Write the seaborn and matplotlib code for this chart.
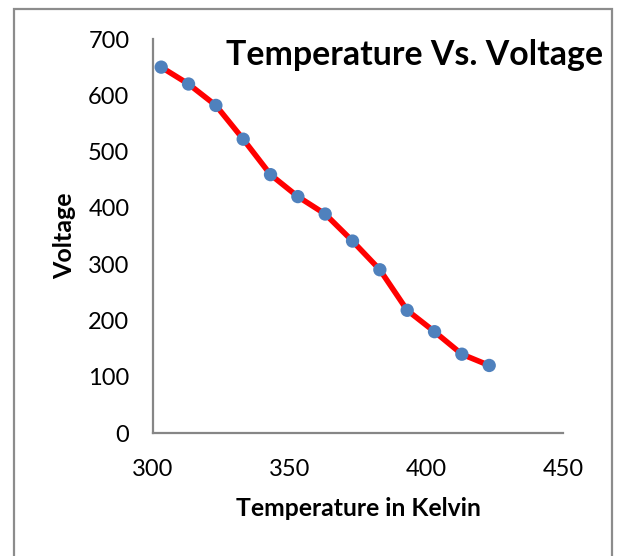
import matplotlib
matplotlib.use("Agg")
import matplotlib.pyplot as plt
import seaborn as sns
from matplotlib.patches import Rectangle

# readings taken off the reference chart
temperature = [303, 313, 323, 333, 343, 353, 363, 373, 383, 393, 403, 413, 423]
voltage = [650, 620, 582, 522, 459, 420, 389, 341, 290, 218, 180, 140, 120]
x_ticks = [300, 350, 400, 450]
y_ticks = [0, 100, 200, 300, 400, 500, 600, 700]

sns.set_style("white")
plt.rcParams['font.family'] = ['Lato', 'DejaVu Sans']
plt.rcParams['text.color'] = 'black'

axis_grey = '#868686'

fig = plt.figure(figsize=(6.17, 5.56), dpi=100)
ax = fig.add_axes([153 / 617, 1 - 433 / 556, 410 / 617, 394 / 556])

sns.lineplot(x=temperature, y=voltage, sort=False, color='#FF0000',
             linewidth=4, ax=ax, zorder=2)
sns.scatterplot(x=temperature, y=voltage, color='#4F81BD', s=92,
                edgecolor='none', ax=ax, zorder=3)

ax.set_xlim(300, 450)
ax.set_ylim(0, 700)
ax.set_xticks(x_ticks)
ax.set_yticks(y_ticks)

for side in ['top', 'right']:
    ax.spines[side].set_visible(False)
for side in ['left', 'bottom']:
    ax.spines[side].set_color(axis_grey)
    ax.spines[side].set_linewidth(1.6)

ax.tick_params(axis='both', which='major', direction='out', length=6,
               width=1.6, color=axis_grey, labelsize=17, labelcolor='black')
ax.tick_params(axis='y', pad=11)
ax.tick_params(axis='x', pad=13)

fig.text(65 / 617, 1 - 236 / 556, 'Voltage', rotation=90, fontsize=18,
         fontweight='bold', ha='center', va='center')
fig.text(358 / 617, 1 - 509 / 556, 'Temperature in Kelvin', fontsize=17.8,
         fontweight='bold', ha='center', va='center')
fig.text(415 / 617, 1 - 65 / 556, 'Temperature Vs. Voltage', fontsize=24.4,
         fontweight='bold', ha='center', va='baseline')

# chart area border
fig.patches.append(Rectangle((14 / 617, -0.05), (612 - 14) / 617, 1.05 - 9 / 556,
                             transform=fig.transFigure, fill=False,
                             edgecolor='#8C8C8C', linewidth=1.6))

fig.savefig('out.png', dpi=100)
